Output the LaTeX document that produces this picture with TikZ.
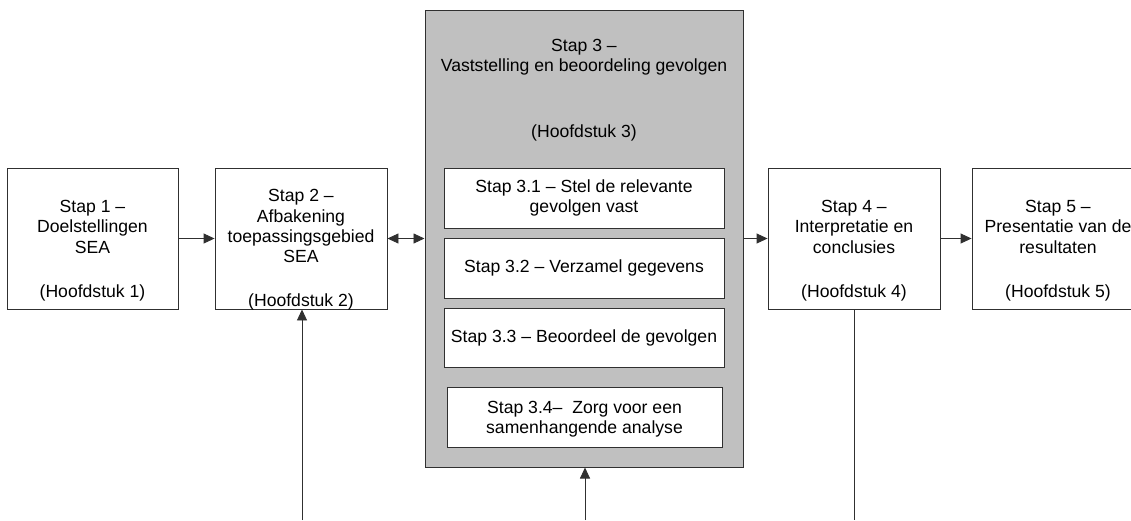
\documentclass[tikz,border=0pt]{standalone}
\usepackage{fontspec}
\setmainfont{Liberation Sans}
\usetikzlibrary{arrows.meta}
\definecolor{linegray}{HTML}{303030}
\definecolor{panelgray}{HTML}{C0C0C0}
\tikzset{
  box/.style={draw=linegray, line width=0.9pt, fill=white, inner sep=0pt},
  panel/.style={draw=linegray, line width=1pt, fill=panelgray, inner sep=0pt},
  txt/.style={align=center, inner sep=0pt, text=black,
    font=\fontsize{17.6}{20.3}\selectfont},
  arr/.style={draw=linegray, line width=0.9pt, -{Triangle[length=11pt,width=10pt]}},
  darr/.style={draw=linegray, line width=0.9pt, {Triangle[length=11pt,width=10pt]}-{Triangle[length=11pt,width=10pt]}},
  plain/.style={draw=linegray, line width=0.9pt}
}
\begin{document}
\begin{tikzpicture}[x=1pt, y=-1pt]
\useasboundingbox (0,0) rectangle (1131,520);
\clip (0,0) rectangle (1131,520);

% main step boxes
\node[box, minimum width=171pt, minimum height=141pt] (s1) at (92.5,238.5) {};
\node[txt] (s1t) at (92.5,250.5) {Stap 1 –\\Doelstellingen\\SEA\\[23.5pt](Hoofdstuk 1)};

\node[box, minimum width=172pt, minimum height=141pt] (s2) at (301,238.5) {};
\node[txt] (s2t) at (301,250) {Stap 2 –\\Afbakening\\toepassingsgebied\\SEA\\[23.5pt](Hoofdstuk 2)};

% central panel with sub-steps
\node[panel, minimum width=318pt, minimum height=457pt] (s3) at (584,238.5) {};
\node[txt] (s3t) at (584,57.5) {Stap 3 –\\Vaststelling en beoordeling gevolgen};
\node[txt] (s3h) at (584,133) {(Hoofdstuk 3)};

\node[box, minimum width=280pt, minimum height=60pt] (s31) at (584,198) {};
\node[txt] (s31t) at (584,198) {Stap 3.1 – Stel de relevante\\gevolgen vast};
\node[box, minimum width=280pt, minimum height=60pt] (s32) at (584,268) {};
\node[txt] (s32t) at (584,268) {Stap 3.2 – Verzamel gegevens};
\node[box, minimum width=280pt, minimum height=59pt] (s33) at (584,337.5) {};
\node[txt] (s33t) at (584,337.5) {Stap 3.3 – Beoordeel de gevolgen};
\node[box, minimum width=275pt, minimum height=60pt] (s34) at (584.5,417) {};
\node[txt] (s34t) at (584.5,419) {Stap 3.4–\ \ Zorg voor een\\samenhangende analyse};

\node[box, minimum width=172pt, minimum height=141pt] (s4) at (854,238.5) {};
\node[txt] (s4t) at (854,250.5) {Stap 4 –\\Interpretatie en\\conclusies\\[23.5pt](Hoofdstuk 4)};

\node[box, minimum width=172pt, minimum height=141pt] (s5) at (1058,238.5) {};
\node[txt] (s5t) at (1058,250.5) {Stap 5 –\\Presentatie van de\\resultaten\\[23.5pt](Hoofdstuk 5)};

% horizontal flow
\draw[arr] (s1) -- (s2);
\draw[darr] (s2) -- (s3);
\draw[arr] (s3) -- (s4);
\draw[arr] (s4) -- (s5);

% vertical links at the bottom edge
\coordinate (b2) at (302,520);
\coordinate (b3) at (585,520);
\coordinate (b4) at (854,520);
\draw[arr] (b2) -- (b2 |- s2.south);
\draw[arr] (b3) -- (b3 |- s3.south);
\draw[plain] (s4.south) -- (b4);
\end{tikzpicture}
\end{document}
